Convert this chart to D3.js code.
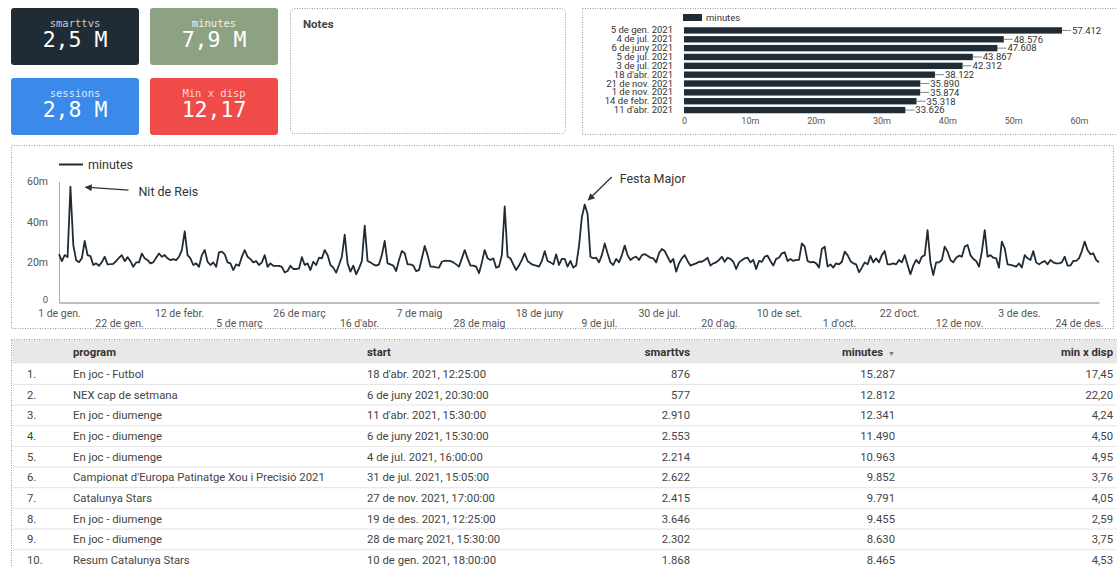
<!DOCTYPE html>
<html>
<head>
<meta charset="utf-8">
<script src="https://cdn.jsdelivr.net/npm/d3@7"></script>
<style>
  body { margin: 0; background: #fff; }
  svg { display: block; font-family: Roboto, "Noto Sans", sans-serif; }
</style>
</head>
<body>
<svg id="dash" width="1117" height="567"></svg>
<script>
// ---------- data ----------
const kpiLabels = ["smarttvs", "minutes", "sessions", "Min x disp"];
const kpiValues = [2500000, 7900000, 2800000, 12.17];

const topDays = ["5 de gen. 2021", "4 de jul. 2021", "6 de juny 2021", "5 de jul. 2021", "3 de jul. 2021",
                 "18 d'abr. 2021", "21 de nov. 2021", "1 de nov. 2021", "14 de febr. 2021", "11 d'abr. 2021"];
const topDayMinutes = [57412, 48576, 47608, 43867, 42312, 38122, 35890, 35874, 35318, 33626];
const barTicks = [0, 10000, 20000, 30000, 40000, 50000, 60000];

// daily minutes for 2021, in thousands (1 Jan .. 31 Dec)
const dailyMinutesK = [
  24.0, 20.5, 23.5, 22.5, 57.412, 28.5, 21.0, 20.0, 22.0, 30.5,
  23.5, 23.0, 18.6, 19.4, 18.2, 20.0, 22.7, 18.9, 19.0, 19.2,
  20.5, 22.2, 23.5, 20.5, 22.5, 20.5, 17.7, 19.9, 19.9, 24.3,
  21.9, 21.0, 19.4, 19.9, 22.2, 24.3, 22.7, 23.5, 21.9, 21.0,
  21.5, 21.0, 22.7, 26.0, 35.318, 23.5, 21.9, 18.6, 19.4, 17.7,
  23.5, 26.0, 20.2, 18.6, 19.9, 17.7, 24.9, 25.2, 23.9, 19.9,
  19.4, 16.1, 18.9, 18.2, 22.7, 26.0, 22.7, 21.5, 19.9, 20.5,
  18.6, 19.9, 23.5, 17.7, 19.4, 18.2, 18.2, 18.2, 17.7, 14.9,
  15.6, 18.2, 16.6, 16.6, 16.9, 22.5, 18.6, 19.4, 16.1, 20.2,
  18.6, 22.2, 21.9, 26.0, 23.5, 18.6, 17.3, 14.8, 18.6, 22.7,
  33.626, 19.4, 15.3, 18.3, 14.0, 16.9, 20.6, 38.122, 20.6, 19.9,
  18.9, 18.3, 18.9, 23.5, 30.5, 19.4, 18.9, 18.3, 15.6, 21.1,
  25.5, 24.4, 18.9, 18.9, 18.3, 15.6, 16.1, 21.9, 28.0, 23.5,
  17.8, 17.8, 17.4, 17.3, 20.2, 20.7, 20.6, 20.6, 19.9, 18.9,
  17.8, 21.9, 26.0, 21.9, 18.3, 18.3, 17.8, 14.5, 19.9, 26.0,
  21.9, 21.1, 21.9, 17.3, 17.8, 23.5, 47.608, 22.7, 21.9, 18.9,
  16.1, 18.3, 21.1, 24.4, 20.6, 19.4, 18.6, 18.3, 17.8, 20.6,
  25.5, 20.6, 19.9, 18.9, 23.9, 18.6, 21.6, 21.6, 17.8, 20.6,
  17.3, 18.3, 28.0, 42.312, 48.576,
  43.867,
  22.7, 21.9, 22.2, 19.9, 23.5, 29.3, 24.4, 19.9, 18.6, 21.6,
  19.9, 23.5, 28.2, 23.5, 21.1, 22.2, 22.7, 21.1, 23.5, 24.0,
  23.2, 22.2, 21.9, 19.9, 24.4, 26.5, 25.5, 22.7, 19.9, 21.6,
  15.3, 19.4, 21.9, 23.5, 20.6, 18.3, 18.9, 19.4, 20.2, 20.2,
  21.1, 22.2, 18.3, 19.4, 19.9, 21.1, 22.7, 20.2, 22.2, 21.6,
  20.2, 16.6, 19.9, 20.9, 21.9, 22.2, 19.9, 21.1, 16.6, 20.6,
  20.2, 22.7, 23.2, 20.6, 18.3, 21.6, 22.2, 24.4, 24.9, 20.6,
  21.6, 20.6, 21.1, 21.1, 29.3, 27.7, 20.6, 19.9, 20.2, 19.4,
  17.3, 26.5, 27.7, 17.8, 18.9, 17.3,
  19.4, 18.9, 20.2, 25.2, 23.5, 20.6, 19.4, 18.9, 15.0, 17.3,
  19.9, 18.9, 23.1, 19.9, 21.9, 19.9, 23.5, 25.5, 18.9, 18.9,
  19.4, 18.9, 21.1, 19.9, 23.5, 18.6, 14.0, 18.3, 21.1, 19.4,
  22.7, 23.5, 35.874, 19.9, 13.6, 19.9, 19.9, 21.1, 27.7, 25.2,
  21.1, 19.9, 22.2, 23.2, 22.7, 27.7, 28.5, 23.5, 21.6, 20.6,
  17.8, 25.2, 35.890, 22.7, 23.5, 22.2, 21.9, 17.3, 30.2, 26.9,
  18.9, 18.6, 18.3, 17.8, 19.4, 17.3, 23.5, 21.9, 21.1, 25.5,
  19.9, 18.9, 19.9, 20.6, 18.9, 21.1, 19.9, 19.4, 19.4, 19.9,
  22.7, 18.3, 18.3, 20.6, 20.6, 21.9, 25.5, 30.2, 26.0, 23.9,
  24.4, 21.1, 19.9
];
const yTicksK = [0, 20, 40, 60];
const dateTickLabels = ["1 de gen.", "22 de gen.", "12 de febr.", "5 de març", "26 de març", "16 d'abr.",
  "7 de maig", "28 de maig", "18 de juny", "9 de jul.", "30 de jul.", "20 d'ag.", "10 de set.",
  "1 d'oct.", "22 d'oct.", "12 de nov.", "3 de des.", "24 de des."];
const annotationLabels = ["Nit de Reis", "Festa Major"];
const annotationDays = [4, 184];

const tableHeaders = ["program", "start", "smarttvs", "minutes", "min x disp"];
const programs = ["En joc - Futbol", "NEX cap de setmana", "En joc - diumenge", "En joc - diumenge",
  "En joc - diumenge", "Campionat d'Europa Patinatge Xou i Precisió 2021", "Catalunya Stars",
  "En joc - diumenge", "En joc - diumenge", "Resum Catalunya Stars"];
const starts = ["18 d'abr. 2021, 12:25:00", "6 de juny 2021, 20:30:00", "11 d'abr. 2021, 15:30:00",
  "6 de juny 2021, 15:30:00", "4 de jul. 2021, 16:00:00", "31 de jul. 2021, 15:05:00",
  "27 de nov. 2021, 17:00:00", "19 de des. 2021, 12:25:00", "28 de març 2021, 15:30:00",
  "10 de gen. 2021, 18:00:00"];
const tableSmarttvs = [876, 577, 2910, 2553, 2214, 2622, 2415, 3646, 2302, 1868];
const tableMinutes = [15287, 12812, 12341, 11490, 10963, 9852, 9791, 9455, 8630, 8465];
const tableMinPerDevice = [17.45, 22.20, 4.24, 4.50, 4.95, 3.76, 4.05, 2.59, 3.75, 4.53];

// ---------- helpers ----------
const ca = d3.formatLocale({ decimal: ",", thousands: ".", grouping: [3], currency: ["", " €"] });
const fmtInt = ca.format(",d");
const fmt2 = ca.format(",.2f");
const fmt1 = ca.format(",.1f");
const dark = "#1f2b35";

const svg = d3.select("#dash");

// dotted panel frame
function panel(x, y, w, h, rx) {
  svg.append("rect").attr("x", x).attr("y", y).attr("width", w).attr("height", h)
    .attr("rx", rx || 0).attr("fill", "#fff")
    .attr("stroke", "#9a9a9a").attr("stroke-width", 1).attr("stroke-dasharray", "1,1.5");
}

// ---------- KPI cards ----------
const kpiColors = [dark, "#8da283", "#3b89e8", "#ee4b49"];
const kpiLabelColors = ["#c9ced3", "#eef2ea", "#dbe9fb", "#fbd9d8"];
const cardX = [11, 150], cardY = [8, 78];
kpiLabels.forEach((lab, i) => {
  const cx = cardX[i % 2], cy = cardY[Math.floor(i / 2)];
  const g = svg.append("g").attr("transform", `translate(${cx},${cy})`);
  g.append("rect").attr("width", 128).attr("height", 57).attr("rx", 3).attr("fill", kpiColors[i]);
  g.append("text").attr("x", 64).attr("y", 19).attr("text-anchor", "middle")
    .attr("font-family", "'DejaVu Sans Mono', monospace").attr("font-size", 10.5)
    .attr("fill", kpiLabelColors[i]).text(lab);
  const v = kpiValues[i];
  const txt = v >= 1e6 ? fmt1(v / 1e6) + " M" : fmt2(v);
  g.append("text").attr("x", 64).attr("y", 39).attr("text-anchor", "middle")
    .attr("font-family", "'DejaVu Sans Mono', monospace").attr("font-size", 21.5)
    .attr("fill", "#fff").text(txt);
});

// ---------- notes ----------
panel(290.5, 8.5, 275, 125, 4);
svg.append("text").attr("x", 303).attr("y", 28).attr("font-size", 11.5).attr("font-weight", "bold")
  .attr("fill", "#444").text("Notes");

// ---------- top days bar chart ----------
panel(582.5, 8.5, 540, 126);
const xBar = d3.scaleLinear().domain([0, 60000]).range([684, 1079]);
const yBar = d3.scaleBand().domain(topDays).range([26, 114.5]).paddingInner(0.28).paddingOuter(0.14);

svg.append("rect").attr("x", 683).attr("y", 14).attr("width", 19).attr("height", 7).attr("fill", dark);
svg.append("text").attr("x", 706).attr("y", 17.5).attr("dy", "0.35em").attr("font-size", 9.5)
  .attr("fill", "#333").text("minutes");

svg.append("g").selectAll("rect").data(topDayMinutes).join("rect")
  .attr("x", xBar(0)).attr("y", (d, i) => yBar(topDays[i]))
  .attr("width", d => xBar(d) - xBar(0)).attr("height", yBar.bandwidth()).attr("fill", dark);

const barLab = svg.append("g");
topDayMinutes.forEach((d, i) => {
  const cy = yBar(topDays[i]) + yBar.bandwidth() / 2;
  barLab.append("line").attr("x1", xBar(d)).attr("x2", xBar(d) + 9).attr("y1", cy).attr("y2", cy)
    .attr("stroke", "#666").attr("stroke-width", 0.8);
  barLab.append("text").attr("x", xBar(d) + 10).attr("y", cy).attr("dy", "0.35em")
    .attr("font-size", 9.5).attr("fill", "#333").text(fmtInt(d));
});

const yBarAxis = svg.append("g").attr("transform", "translate(677,0)")
  .call(d3.axisLeft(yBar).tickSize(0).tickPadding(4));
yBarAxis.select(".domain").remove();
yBarAxis.selectAll("text").attr("font-size", 9.5).attr("fill", "#333")
  .attr("font-family", "Roboto, sans-serif");

const xBarAxis = svg.append("g").attr("transform", "translate(0,118)")
  .call(d3.axisBottom(xBar).tickValues(barTicks).tickSize(0).tickPadding(0)
    .tickFormat(d => d === 0 ? "0" : d / 1000 + "m"));
xBarAxis.select(".domain").remove();
xBarAxis.selectAll("text").attr("font-size", 9).attr("fill", "#555")
  .attr("font-family", "Roboto, sans-serif");

// ---------- daily line chart ----------
panel(11.5, 145.5, 1102, 183);
const day0 = new Date(Date.UTC(2021, 0, 1));
const days = dailyMinutesK.map((v, i) => d3.utcDay.offset(day0, i));
const xT = d3.scaleUtc().domain([day0, new Date(Date.UTC(2021, 11, 31))]).range([59, 1099]);
const yL = d3.scaleLinear().domain([0, 60]).range([302.5, 181.5]);

// legend
svg.append("line").attr("x1", 59).attr("x2", 83).attr("y1", 164.5).attr("y2", 164.5)
  .attr("stroke", dark).attr("stroke-width", 2);
svg.append("text").attr("x", 88).attr("y", 164.5).attr("dy", "0.35em").attr("font-size", 12.5)
  .attr("fill", "#333").text("minutes");

const yAx = svg.append("g").attr("transform", "translate(59,0)")
  .call(d3.axisLeft(yL).tickValues(yTicksK).tickSize(0).tickPadding(11)
    .tickFormat(d => d === 0 ? "0" : d + "m"));
yAx.select(".domain").attr("stroke", "#aaa");
yAx.selectAll("text").attr("font-size", 10.5).attr("fill", "#555").attr("font-family", "Roboto, sans-serif");
// the zero label sits a little higher so it clears the first date label
yAx.selectAll(".tick").filter(d => d === 0).select("text").attr("y", -3).attr("font-size", 9.5);

const tickDates = dateTickLabels.map((l, i) => d3.utcDay.offset(day0, i * 21));
const xAx = svg.append("g").attr("transform", "translate(0,302.5)")
  .call(d3.axisBottom(xT).tickValues(tickDates).tickSize(0).tickSizeOuter(0)
    .tickFormat((d, i) => dateTickLabels[i]));
xAx.select(".domain").attr("stroke", "#aaa").attr("stroke-width", 1.5);
xAx.selectAll("text").attr("font-size", 10.5).attr("fill", "#555").attr("font-family", "Roboto, sans-serif")
  .attr("y", (d, i) => i % 2 ? 17 : 7.5);

const line = d3.line().x((d, i) => xT(days[i])).y(d => yL(d)).curve(d3.curveLinear);
svg.append("path").datum(dailyMinutesK).attr("d", line).attr("fill", "none")
  .attr("stroke", dark).attr("stroke-width", 1.8).attr("stroke-linejoin", "round");

// annotations with arrows
svg.append("defs").append("marker").attr("id", "arrowhead").attr("viewBox", "0 0 10 10")
  .attr("refX", 9).attr("refY", 5).attr("markerWidth", 9).attr("markerHeight", 7)
  .attr("markerUnits", "userSpaceOnUse").attr("orient", "auto")
  .append("path").attr("d", "M0,0L10,5L0,10Z").attr("fill", "#333");

const annOffsets = [
  { tip: [15, 0.5], tail: [58, 3.5], text: [68, 5] },
  { tip: [3.5, -4.5], tail: [27, -27.5], text: [35, -26] }
];
annotationLabels.forEach((lab, i) => {
  const d = annotationDays[i];
  const px = xT(days[d]), py = yL(dailyMinutesK[d]);
  const o = annOffsets[i];
  svg.append("line").attr("x1", px + o.tail[0]).attr("y1", py + o.tail[1])
    .attr("x2", px + o.tip[0]).attr("y2", py + o.tip[1])
    .attr("stroke", "#333").attr("stroke-width", 1.3).attr("marker-end", "url(#arrowhead)");
  svg.append("text").attr("x", px + o.text[0]).attr("y", py + o.text[1]).attr("dy", "0.35em")
    .attr("font-size", 12.5).attr("fill", "#333").text(lab);
});

// ---------- top programs table ----------
panel(11.5, 339.5, 1112, 240);
svg.append("rect").attr("x", 12).attr("y", 340).attr("width", 1105).attr("height", 23.5).attr("fill", "#e8e8e8");

const rowY = d3.scaleBand().domain(d3.range(programs.length)).range([363.7, 363.7 + 20.67 * programs.length]);
const colX = [73, 367, 690, 895, 1113];
const colAnchor = ["start", "start", "end", "end", "end"];

const head = svg.append("g").attr("font-size", 11.3).attr("font-weight", "bold").attr("fill", "#333");
tableHeaders.forEach((h, j) => {
  const t = head.append("text").attr("x", colX[j]).attr("y", 352).attr("dy", "0.35em")
    .attr("text-anchor", colAnchor[j]).text(h);
  if (h === "minutes") {
    t.append("tspan").attr("dx", 5).attr("font-size", 7).attr("fill", "#777").text("▼");
  }
});

const body = svg.append("g").attr("font-size", 11.3).attr("fill", "#444");
programs.forEach((p, i) => {
  const cy = rowY(i) + rowY.bandwidth() / 2;
  const cells = [p, starts[i], fmtInt(tableSmarttvs[i]), fmtInt(tableMinutes[i]), fmt2(tableMinPerDevice[i])];
  body.append("text").attr("x", 27).attr("y", cy).attr("dy", "0.35em").text((i + 1) + ".");
  cells.forEach((c, j) => {
    body.append("text").attr("x", colX[j]).attr("y", cy).attr("dy", "0.35em")
      .attr("text-anchor", colAnchor[j]).text(c);
  });
  body.append("line").attr("x1", 12).attr("x2", 1117)
    .attr("y1", rowY(i) + rowY.bandwidth()).attr("y2", rowY(i) + rowY.bandwidth())
    .attr("stroke", "#e3e3e3");
});
</script>
</body>
</html>
